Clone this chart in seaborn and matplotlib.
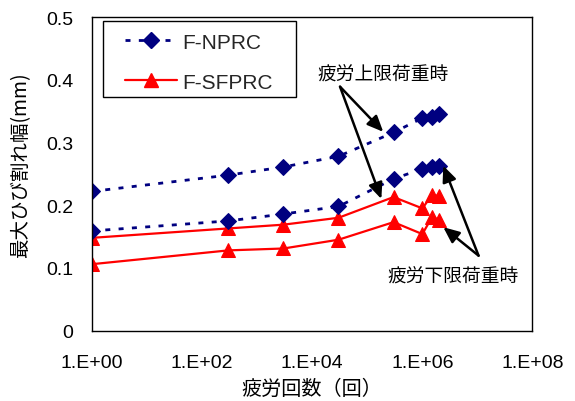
import matplotlib
matplotlib.use("Agg")
import matplotlib.pyplot as plt
from matplotlib.lines import Line2D
from matplotlib.patches import Rectangle
import pandas as pd
import seaborn as sns

# Fatigue cycles and max crack widths (mm)
cycles = [1, 300, 3000, 30000, 300000, 1000000, 1500000, 2000000]
nprc_upper = [0.222, 0.248, 0.261, 0.278, 0.316, 0.339, 0.341, 0.346]
nprc_lower = [0.159, 0.175, 0.186, 0.198, 0.242, 0.258, 0.261, 0.263]
sfprc_upper = [0.148, 0.163, 0.169, 0.180, 0.213, 0.195, 0.216, 0.215]
sfprc_lower = [0.106, 0.128, 0.131, 0.145, 0.173, 0.154, 0.181, 0.177]

series_names = ["F-NPRC", "F-SFPRC"]
x_tick_values = [1, 1e2, 1e4, 1e6, 1e8]
x_tick_labels = ["1.E+00", "1.E+02", "1.E+04", "1.E+06", "1.E+08"]
y_tick_values = [0, 0.1, 0.2, 0.3, 0.4, 0.5]
y_tick_labels = ["0", "0.1", "0.2", "0.3", "0.4", "0.5"]

x_label = "疲労回数（回）"
y_label = "最大ひび割れ幅(mm)"
note_upper = "疲労上限荷重時"
note_lower = "疲労下限荷重時"

sns.set_theme(style="white")
plt.rcParams["font.family"] = ["Liberation Sans", "Noto Sans CJK JP", "DejaVu Sans"]
jp = ["Noto Sans CJK JP", "DejaVu Sans"]

rows = []
for name, load, vals in [
    ("F-NPRC", "upper", nprc_upper),
    ("F-NPRC", "lower", nprc_lower),
    ("F-SFPRC", "upper", sfprc_upper),
    ("F-SFPRC", "lower", sfprc_lower),
]:
    for n, w in zip(cycles, vals):
        rows.append({"series": name, "load": load, "N": n, "w": w})
df = pd.DataFrame(rows)

navy = "#000080"
red = "#FF0000"

fig = plt.figure(figsize=(5.75, 4.02), dpi=100)
ax = fig.add_axes([0.160, 0.175, 0.766, 0.780])

nprc_style = dict(color=navy, lw=2.0, dashes=(1.8, 3.0), marker="D",
                  markersize=8, markerfacecolor=navy, markeredgecolor=navy)
sfprc_style = dict(color=red, lw=1.6, marker="^",
                   markersize=10, markerfacecolor=red, markeredgecolor=red)

for load in ["upper", "lower"]:
    sub = df[(df.series == "F-NPRC") & (df.load == load)]
    sns.lineplot(data=sub, x="N", y="w", ax=ax, estimator=None, sort=False,
                 legend=False, **nprc_style)
    sub = df[(df.series == "F-SFPRC") & (df.load == load)]
    sns.lineplot(data=sub, x="N", y="w", ax=ax, estimator=None, sort=False,
                 legend=False, **sfprc_style)

ax.set_xscale("log")
ax.set_xlim(1, 1e8)
ax.set_ylim(0, 0.5)
ax.set_xticks(x_tick_values)
ax.set_xticklabels(x_tick_labels)
ax.set_yticks(y_tick_values)
ax.set_yticklabels(y_tick_labels)
ax.xaxis.set_minor_locator(matplotlib.ticker.NullLocator())

ax.tick_params(axis="both", direction="in", length=6, width=1, color="black",
               labelsize=14, labelcolor="black")
ax.tick_params(axis="x", pad=17)
ax.tick_params(axis="y", pad=13.5)
for s in ax.spines.values():
    s.set_visible(True)
    s.set_color("black")
    s.set_linewidth(1.0)

ax.set_xlabel(x_label, fontsize=14.5, family=jp, labelpad=5, color="black")
ax.set_ylabel(y_label, fontsize=14, family=jp, color="black")
ax.yaxis.set_label_coords(-0.139, 0.532)

# Legend: box drawn as a plain rectangle, entries placed inside it
ax.add_patch(Rectangle((0.0243, 0.745), 0.4393, 0.244, transform=ax.transAxes,
                       facecolor="white", edgecolor="black", lw=1.0, zorder=4))
handles = [Line2D([], [], **nprc_style), Line2D([], [], **sfprc_style)]
leg = ax.legend(handles, series_names, loc="upper left",
                bbox_to_anchor=(0.075, 0.950), borderaxespad=0, borderpad=0,
                fontsize=15, frameon=False, handlelength=2.5,
                handletextpad=0.25, labelspacing=1.0)
leg.set_zorder(5)

arrow = dict(arrowstyle="-|>,head_length=0.8,head_width=0.35", color="black",
             lw=1.8, shrinkA=0, shrinkB=0)

# Upper-load note with two arrows
ax.text(1.95e5, 0.409, note_upper, ha="center", va="center",
        fontsize=13.5, family=jp, color="black")
for tip in [(1.95e5, 0.317), (1.8e5, 0.210)]:
    ax.annotate("", xy=tip, xytext=(3.2e4, 0.389), arrowprops=arrow)

# Lower-load note with two arrows
ax.text(3.65e6, 0.087, note_lower, ha="center", va="center",
        fontsize=13.5, family=jp, color="black")
for tip in [(2.4e6, 0.263), (2.4e6, 0.165)]:
    ax.annotate("", xy=tip, xytext=(1.05e7, 0.1196), arrowprops=arrow)

fig.savefig("out.png", dpi=100)
